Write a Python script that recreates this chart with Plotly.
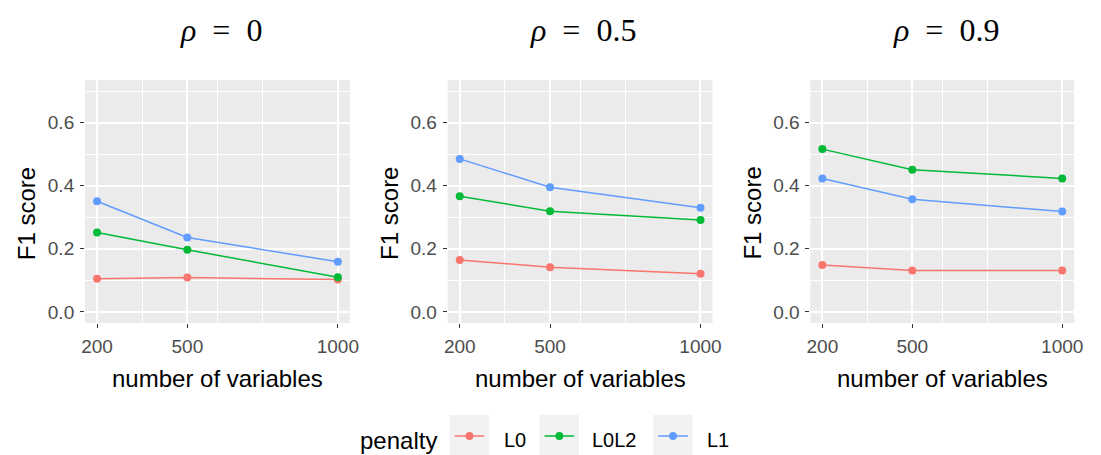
import plotly.graph_objects as go

# number of variables (x) and F1 scores per penalty, one panel per correlation rho
n_vars = [200, 500, 1000]
panel_titles = ["<i>ρ</i>  =  0", "<i>ρ</i>  =  0.5", "<i>ρ</i>  =  0.9"]
penalties = ["L0", "L0L2", "L1"]
colors = {"L0": "#F8766D", "L0L2": "#00BA38", "L1": "#619CFF"}

f1_rho0 = {"L0": [0.105, 0.109, 0.103], "L0L2": [0.252, 0.197, 0.110], "L1": [0.351, 0.236, 0.159]}
f1_rho05 = {"L0": [0.165, 0.142, 0.121], "L0L2": [0.367, 0.319, 0.291], "L1": [0.485, 0.395, 0.330]}
f1_rho09 = {"L0": [0.149, 0.131, 0.131], "L0L2": [0.516, 0.451, 0.423], "L1": [0.423, 0.357, 0.318]}
panels = [f1_rho0, f1_rho05, f1_rho09]

y_ticks = [0.0, 0.2, 0.4, 0.6]
y_ticktext = ["0.0", "0.2", "0.4", "0.6"]

W, H = 1101, 455
# plot-area pixel boxes (left, right) for each panel; shared top/bottom
panel_px = [(82, 350), (449, 717), (816, 1083)]
top_px, bot_px = 80, 323

fig = go.Figure()
layout = dict(
    width=W, height=H, margin=dict(l=0, r=0, t=0, b=0),
    paper_bgcolor="white", plot_bgcolor="#EBEBEB",
    showlegend=False, font=dict(family="Liberation Sans", color="#4D4D4D"),
)
annotations = []
shapes = []

for i, data in enumerate(panels):
    xa = "x" if i == 0 else f"x{i+1}"
    ya = "y" if i == 0 else f"y{i+1}"
    for p in penalties:
        fig.add_trace(go.Scatter(
            x=n_vars, y=data[p], mode="lines+markers", name=p,
            line=dict(color=colors[p], width=1.5),
            marker=dict(color=colors[p], size=8),
            xaxis=xa, yaxis=ya,
        ))
    l, r = panel_px[i]
    xdom = [l / W, r / W]
    ydom = [1 - bot_px / H, 1 - top_px / H]
    key = "xaxis" if i == 0 else f"xaxis{i+1}"
    ykey = "yaxis" if i == 0 else f"yaxis{i+1}"
    layout[key] = dict(
        domain=xdom, anchor=ya, range=[160, 1040],
        tickmode="array", tickvals=n_vars, ticktext=[str(v) for v in n_vars],
        ticks="outside", ticklen=4, tickcolor="#333333", tickwidth=1,
        tickfont=dict(size=19, color="#4D4D4D"), ticklabelstandoff=2,
        showgrid=True, gridcolor="white", gridwidth=2, zeroline=False, showline=False,
        minor=dict(tickmode="array", tickvals=[350, 600, 750], showgrid=True,
                   gridcolor="white", gridwidth=1, ticks=""),
    )
    layout[ykey] = dict(
        domain=ydom, anchor=xa, range=[-0.035, 0.735],
        tickmode="array", tickvals=y_ticks, ticktext=y_ticktext,
        ticks="outside", ticklen=4, tickcolor="#333333", tickwidth=1,
        tickfont=dict(size=19, color="#4D4D4D"), ticklabelstandoff=2,
        showgrid=True, gridcolor="white", gridwidth=2, zeroline=False, showline=False,
        minor=dict(tickmode="array", tickvals=[0.1, 0.3, 0.5, 0.7], showgrid=True,
                   gridcolor="white", gridwidth=1, ticks=""),
    )
    cx = (l + r) / 2
    # panel title
    annotations.append(dict(
        text=panel_titles[i], x=cx / W + 0.003, y=1 - 30 / H, xref="paper", yref="paper",
        showarrow=False, xanchor="center", yanchor="middle",
        font=dict(family="Liberation Serif", size=32, color="black"),
    ))
    # x axis title
    annotations.append(dict(
        text="number of variables", x=cx / W, y=1 - 378 / H, xref="paper", yref="paper",
        showarrow=False, xanchor="center", yanchor="middle",
        font=dict(size=24, color="black"),
    ))
    # y axis title
    annotations.append(dict(
        text="F1 score", x=(l - 59) / W, y=1 - ((top_px + bot_px) / 2 + 12) / H,
        xref="paper", yref="paper", showarrow=False, textangle=-90,
        xanchor="center", yanchor="middle", font=dict(size=24, color="black"),
    ))

# legend drawn along the bottom
annotations.append(dict(
    text="penalty", x=358 / W, y=1 - 440 / H, xref="paper", yref="paper",
    showarrow=False, xanchor="left", yanchor="middle", font=dict(size=24, color="black"),
))
key_left = [451, 542, 657]
label_left = [504, 593, 709]
for p, kl, ll in zip(penalties, key_left, label_left):
    y0 = 1 - 455 / H
    y1 = 1 - 415 / H
    ym = 1 - 436 / H
    shapes.append(dict(type="rect", xref="paper", yref="paper", x0=kl / W, x1=(kl + 40) / W,
                       y0=y0, y1=y1, fillcolor="#F2F2F2", line=dict(width=0), layer="below"))
    shapes.append(dict(type="line", xref="paper", yref="paper", x0=(kl + 5) / W, x1=(kl + 35) / W,
                       y0=ym, y1=ym, line=dict(color=colors[p], width=1.5)))
    shapes.append(dict(type="circle", xref="paper", yref="paper",
                       x0=(kl + 16) / W, x1=(kl + 24) / W, y0=ym - 4 / H, y1=ym + 4 / H,
                       fillcolor=colors[p], line=dict(width=0)))
    annotations.append(dict(
        text=p, x=ll / W, y=1 - 440 / H, xref="paper", yref="paper",
        showarrow=False, xanchor="left", yanchor="middle", font=dict(size=20, color="black"),
    ))

layout["annotations"] = annotations
layout["shapes"] = shapes
fig.update_layout(**layout)
fig.write_html("out.html")
